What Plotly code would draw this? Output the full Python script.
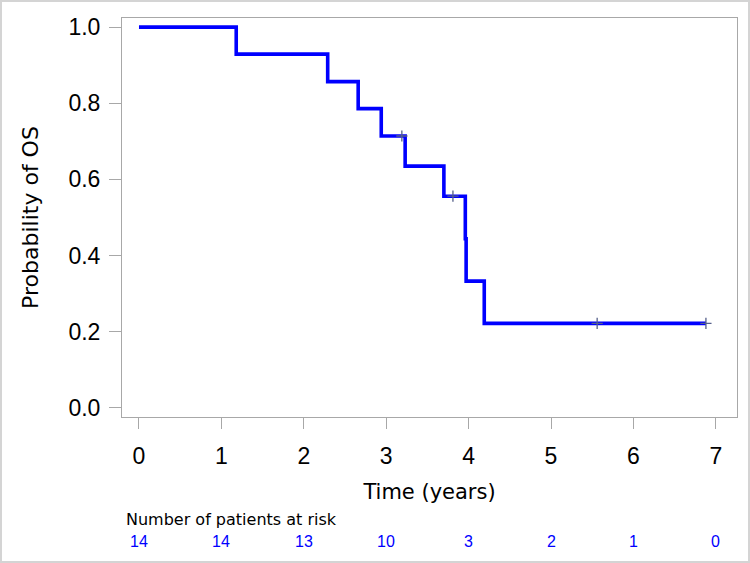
import plotly.graph_objects as go

# Kaplan-Meier step data
step_times = [0, 1.18, 2.29, 2.66, 2.94, 3.23, 3.70, 3.96, 3.97, 4.19, 6.88]
step_surv = [1.0, 0.929, 0.857, 0.786, 0.714, 0.635, 0.556, 0.444, 0.333, 0.222, 0.222]

censor_times = [3.19, 3.81, 5.56, 6.88]
censor_surv = [0.714, 0.556, 0.222, 0.222]

x_ticks = [0, 1, 2, 3, 4, 5, 6, 7]
y_ticks = [0.0, 0.2, 0.4, 0.6, 0.8, 1.0]
at_risk = [14, 14, 13, 10, 3, 2, 1, 0]

W, H = 750, 563
L, R, T, B = 122, 13, 18, 146
PW, PH = W - L - R, H - T - B

sans = "Liberation Sans, Arial, Helvetica"
wide = "DejaVu Sans, Verdana, sans-serif"

fig = go.Figure()
fig.add_trace(go.Scatter(
    x=step_times, y=step_surv, mode="lines", line_shape="hv",
    line=dict(color="#0000FF", width=3.6), showlegend=False, hoverinfo="skip"))
fig.add_trace(go.Scatter(
    x=censor_times, y=censor_surv, mode="markers",
    marker=dict(symbol="cross-thin", size=8, line=dict(color="#55608a", width=1.3)),
    showlegend=False))

fig.update_xaxes(
    range=[-0.206, 7.257], tickvals=x_ticks, ticktext=[str(v) for v in x_ticks],
    showgrid=False, zeroline=False, showline=True, mirror=True, linecolor="#a8a8a8", linewidth=1,
    ticks="outside", ticklen=11, tickcolor="#a8a8a8", tickwidth=1,
    tickfont=dict(family=sans, size=23, color="#000"), ticklabelstandoff=7,
    title=dict(text="Time (years)", font=dict(family=wide, size=21, color="#000"), standoff=16))
fig.update_yaxes(
    range=[-0.024, 1.024], tickvals=y_ticks, ticktext=[f"{v:.1f}" for v in y_ticks],
    showgrid=False, zeroline=False, showline=True, mirror=True, linecolor="#a8a8a8", linewidth=1,
    ticks="outside", ticklen=12, tickcolor="#a8a8a8", tickwidth=1,
    tickfont=dict(family=sans, size=23, color="#000"), ticklabelstandoff=4,
    title=dict(text="Probability of OS", font=dict(family=wide, size=22, color="#000"), standoff=23))

fig.add_annotation(text="Number of patients at risk", xref="paper", yref="paper",
                   x=(124 - L) / PW, y=(T + PH - 519) / PH, xanchor="left", yanchor="middle",
                   showarrow=False, font=dict(family=wide, size=16, color="#000"))
for xv, n in zip(x_ticks, at_risk):
    fig.add_annotation(text=str(n), x=xv, xref="x", yref="paper", y=(T + PH - 541) / PH,
                       xanchor="center", yanchor="middle", showarrow=False,
                       font=dict(family=sans, size=16, color="#0000FF"))

# outer light border
fig.add_shape(type="rect", xref="paper", yref="paper",
              x0=(-L + 1) / PW, x1=(W - L - 1) / PW, y0=(-B + 1) / PH, y1=(PH + T - 1) / PH,
              line=dict(color="#d4d4d4", width=2), layer="below")

fig.update_layout(width=W, height=H, margin=dict(l=L, r=R, t=T, b=B),
                  paper_bgcolor="white", plot_bgcolor="white")
fig.write_html("out.html")
